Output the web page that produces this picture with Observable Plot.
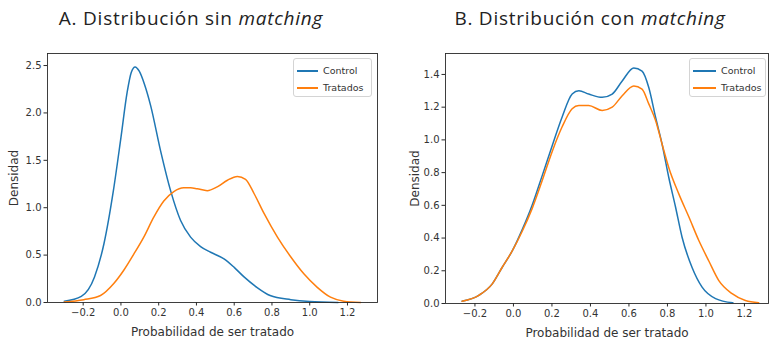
<!DOCTYPE html>
<html>
<head>
<meta charset="utf-8">
<script src="https://cdn.jsdelivr.net/npm/d3@7"></script>
<script src="https://cdn.jsdelivr.net/npm/@observablehq/plot@0.6"></script>
<style>
  html, body { margin: 0; padding: 0; background: #fff; }
  #root { position: relative; width: 770px; height: 339px; overflow: hidden; background: #fff; }
  .title { position: absolute; top: 5px; font-family: "Open Sans", sans-serif; font-size: 19px; letter-spacing: 0.75px; color: #222; white-space: nowrap; transform: translateX(-50%); }
  .panel { position: absolute; top: 40px; }
  .legend { position: absolute; top: 58px; height: 39px; border: 1px solid #d4d4d4; border-radius: 3px; background: #fff; box-sizing: border-box; font-family: "DejaVu Sans", sans-serif; font-size: 9.5px; color: #333; }
  .legend .row { position: absolute; left: 0; height: 12px; line-height: 12px; }
  .legend .sw { position: absolute; top: 5px; height: 2px; }
  .legend .lb { position: absolute; top: 0; }
</style>
</head>
<body>
<div id="root"></div>
<script>
// ---------- data ----------
const titles = ["A. Distribución sin ", "B. Distribución con "];
const titleItalic = "matching";
const seriesNames = ["Control", "Tratados"];
const seriesColors = ["#1f77b4", "#ff7f0e"];
const xLabel = "Probabilidad de ser tratado";
const yLabel = "Densidad";
const xTicks = [-0.2, 0.0, 0.2, 0.4, 0.6, 0.8, 1.0, 1.2];
const yTicksA = [0.0, 0.5, 1.0, 1.5, 2.0, 2.5];
const yTicksB = [0.0, 0.2, 0.4, 0.6, 0.8, 1.0, 1.2, 1.4];

// Panel A: sin matching
const aControlX = [-0.30, -0.21, -0.14, -0.09, -0.04, 0.00, 0.033, 0.055, 0.075, 0.097, 0.125, 0.157, 0.21, 0.263, 0.316, 0.369, 0.422, 0.475, 0.546, 0.60, 0.652, 0.72, 0.79, 0.90, 1.00, 1.15];
const aControlY = [0.014, 0.065, 0.27, 0.62, 1.18, 1.74, 2.22, 2.43, 2.485, 2.44, 2.30, 2.08, 1.60, 1.18, 0.865, 0.69, 0.59, 0.53, 0.46, 0.37, 0.27, 0.16, 0.074, 0.03, 0.01, 0.0];
const aTratX = [-0.30, -0.197, -0.108, -0.038, 0.015, 0.068, 0.121, 0.174, 0.227, 0.28, 0.333, 0.369, 0.404, 0.457, 0.51, 0.564, 0.617, 0.66, 0.705, 0.758, 0.829, 0.90, 0.97, 1.04, 1.11, 1.18, 1.27];
const aTratY = [0.005, 0.03, 0.074, 0.20, 0.34, 0.51, 0.69, 0.90, 1.07, 1.17, 1.21, 1.21, 1.20, 1.18, 1.22, 1.29, 1.33, 1.30, 1.15, 0.94, 0.69, 0.48, 0.30, 0.16, 0.056, 0.014, 0.0];

// Panel B: con matching
const bControlX = [-0.267, -0.18, -0.11, -0.059, -0.007, 0.045, 0.097, 0.149, 0.20, 0.253, 0.305, 0.34, 0.391, 0.461, 0.513, 0.565, 0.625, 0.668, 0.703, 0.738, 0.772, 0.807, 0.842, 0.876, 0.928, 0.98, 1.05, 1.14];
const bControlY = [0.014, 0.05, 0.12, 0.22, 0.32, 0.45, 0.60, 0.78, 0.96, 1.14, 1.28, 1.30, 1.28, 1.26, 1.28, 1.36, 1.44, 1.42, 1.32, 1.14, 0.975, 0.77, 0.59, 0.405, 0.22, 0.10, 0.03, 0.004];
const bTratX = [-0.267, -0.18, -0.11, -0.059, -0.007, 0.045, 0.097, 0.149, 0.20, 0.253, 0.305, 0.34, 0.391, 0.461, 0.513, 0.565, 0.625, 0.668, 0.703, 0.738, 0.772, 0.807, 0.859, 0.911, 0.963, 1.015, 1.067, 1.136, 1.205, 1.274];
const bTratY = [0.014, 0.05, 0.12, 0.22, 0.32, 0.44, 0.58, 0.75, 0.925, 1.08, 1.19, 1.21, 1.21, 1.18, 1.20, 1.27, 1.33, 1.31, 1.22, 1.12, 0.975, 0.83, 0.67, 0.53, 0.385, 0.26, 0.14, 0.06, 0.018, 0.005];

// ---------- build ----------
const root = document.getElementById("root");
const font = "DejaVu Sans, sans-serif";

function toRows(xs, ys, name) { return xs.map((x, i) => ({x, y: ys[i], s: name})); }

function panel(cfg) {
  const rows = [
    ...toRows(cfg.cx, cfg.cy, seriesNames[0]),
    ...toRows(cfg.tx, cfg.ty, seriesNames[1])
  ];
  const chart = Plot.plot({
    width: 385, height: 299,
    marginLeft: cfg.ml, marginRight: cfg.mr, marginTop: 13, marginBottom: cfg.mb,
    style: {fontFamily: font, fontSize: "10px", color: "#333", background: "transparent"},
    x: {domain: cfg.xd},
    y: {domain: cfg.yd},
    color: {domain: seriesNames, range: seriesColors},
    marks: [
      Plot.line(rows, {x: "x", y: "y", z: "s", stroke: "s", strokeWidth: 1.5, curve: "monotone-x"}),
      Plot.frame({stroke: "#2a2a2a", strokeWidth: 0.9}),
      Plot.axisX({ticks: xTicks, tickFormat: d3.format(".1f"), tickSize: 3.5, tickPadding: 2.5, stroke: "#2a2a2a", fontSize: "10px", label: null}),
      Plot.axisX({ticks: [], label: xLabel, labelAnchor: "center", labelArrow: "none", labelOffset: cfg.lo, fontSize: "12px"}),
      Plot.axisY({ticks: cfg.yt, tickFormat: d3.format(".1f"), tickSize: 3.5, tickPadding: 2.5, stroke: "#2a2a2a", fontSize: "10px", label: null}),
      Plot.axisY({ticks: [], label: yLabel, labelAnchor: "center", labelArrow: "none", labelOffset: cfg.ylo, fontSize: "12px"})
    ]
  });
  chart.classList.add("panel");
  chart.style.left = cfg.left + "px";
  root.appendChild(chart);

  const t = document.createElement("div");
  t.className = "title";
  t.style.left = cfg.tc + "px";
  t.append(cfg.title);
  const it = document.createElement("i");
  it.textContent = titleItalic;
  t.appendChild(it);
  root.appendChild(t);

  const lg = document.createElement("div");
  lg.className = "legend";
  lg.style.left = cfg.lgx + "px";
  lg.style.width = cfg.lgw + "px";
  seriesNames.forEach((n, i) => {
    const row = document.createElement("div");
    row.className = "row";
    row.style.top = (6 + i * 17) + "px";
    const sw = document.createElement("div");
    sw.className = "sw";
    sw.style.left = "3px"; sw.style.width = cfg.sww + "px";
    sw.style.background = seriesColors[i];
    const lb = document.createElement("div");
    lb.className = "lb";
    lb.style.left = (cfg.sww + 8) + "px";
    lb.textContent = n;
    row.appendChild(sw); row.appendChild(lb);
    lg.appendChild(row);
  });
  root.appendChild(lg);
}

panel({left: 0, ml: 47, mr: 8, mb: 37, lo: 33, ylo: 38, xd: [-0.389, 1.359], yd: [0, 2.627], yt: yTicksA,
  cx: aControlX, cy: aControlY, tx: aTratX, ty: aTratY, title: titles[0], tc: 191, lgx: 293, lgw: 79, sww: 21});
panel({left: 385, ml: 60, mr: 2, mb: 36, lo: 33, ylo: 35, xd: [-0.353, 1.325], yd: [0, 1.528], yt: yTicksB,
  cx: bControlX, cy: bControlY, tx: bTratX, ty: bTratY, title: titles[1], tc: 590, lgx: 689, lgw: 77, sww: 23});
</script>
</body>
</html>
